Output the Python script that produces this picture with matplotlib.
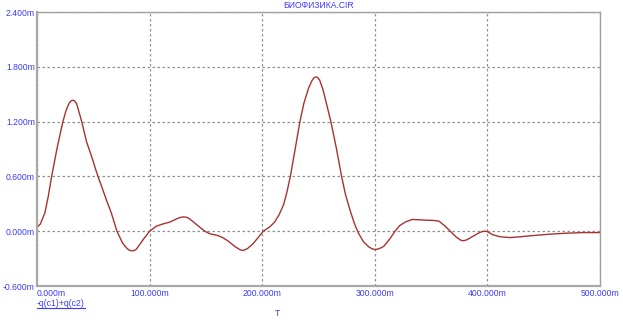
import matplotlib.pyplot as plt
from matplotlib.lines import Line2D

# time (ms-units "m") and -q(c1)+q(c2) values
t = [0, 3, 7, 10, 13, 18, 23, 26, 28.5, 30, 31.7, 33.5, 35, 36.5, 39.7, 44,
     49, 52, 55, 58, 62, 66, 71, 76, 80, 82, 84, 86, 88, 91, 95, 100, 106, 112,
     118, 124, 127, 130, 133, 135, 139, 144, 149, 154, 160, 165, 170, 176, 180,
     182, 184, 187, 192, 197, 201, 207, 211, 215, 219, 222, 225, 229, 233.5,
     237, 241, 244, 246, 247.5, 249, 251, 254, 257, 261, 266, 270.5, 274, 278,
     282, 285, 290, 295, 298, 300, 302, 305, 308, 313, 318, 322, 327, 333, 340,
     346, 352, 357, 362, 367, 372, 376, 378.5, 381, 383, 388, 393, 396, 398,
     400, 405, 411, 420, 430, 440, 455, 470, 485, 500]
q = [0.04, 0.08, 0.2, 0.38, 0.6, 0.92, 1.2, 1.33, 1.40, 1.425, 1.435, 1.425,
     1.40, 1.34, 1.2, 0.98, 0.8, 0.68, 0.57, 0.47, 0.33, 0.2, 0.0, -0.13,
     -0.19, -0.207, -0.215, -0.213, -0.2, -0.15, -0.08, 0.0, 0.055, 0.08, 0.1,
     0.135, 0.15, 0.157, 0.152, 0.14, 0.1, 0.05, 0.0, -0.03, -0.045, -0.07,
     -0.11, -0.17, -0.2, -0.21, -0.207, -0.19, -0.135, -0.06, 0.0, 0.05, 0.1,
     0.18, 0.29, 0.43, 0.6, 0.88, 1.2, 1.4, 1.56, 1.645, 1.68, 1.69, 1.685,
     1.655, 1.55, 1.4, 1.2, 0.9, 0.6, 0.4, 0.23, 0.08, -0.01, -0.117, -0.175,
     -0.195, -0.2, -0.198, -0.185, -0.165, -0.09, 0.0, 0.06, 0.1, 0.128, 0.125,
     0.12, 0.118, 0.11, 0.06, 0.0, -0.06, -0.097, -0.105, -0.098, -0.085,
     -0.05, -0.015, -0.002, 0.0, -0.005, -0.04, -0.06, -0.07, -0.06, -0.048,
     -0.033, -0.022, -0.015, -0.015]

xticks = [0, 100, 200, 300, 400, 500]
yticks = [-0.6, 0.0, 0.6, 1.2, 1.8, 2.4]

blue = '#3a3aff'
plt.rcParams['font.family'] = ['Liberation Sans', 'DejaVu Sans']

fig = plt.figure(figsize=(6.23, 3.24), dpi=100)
ax = fig.add_axes([37 / 623, 1 - 286 / 324, 563 / 623, 274 / 324])
ax.plot(t, q, color='#a83232', lw=1.0)

ax.set_xlim(0, 500)
ax.set_ylim(-0.6, 2.4)
ax.set_xticks(xticks)
ax.set_yticks(yticks)
ax.set_xticklabels(['%.3fm' % v for v in xticks])
ax.set_yticklabels(['%.3fm' % v for v in yticks])
ax.tick_params(length=0, labelsize=6.2, labelcolor=blue)
ax.tick_params(axis='y', pad=1.5)
ax.tick_params(axis='x', pad=2.5)
ax.get_xticklabels()[0].set_horizontalalignment('left')

ax.grid(True, color='#909090', lw=0.9, linestyle=(0, (2, 2)))
for side in ['top', 'right']:
    ax.spines[side].set_color('#a0a0a0')
    ax.spines[side].set_linewidth(1.0)
for side in ['left', 'bottom']:
    ax.spines[side].set_color('#a8a8a8')
    ax.spines[side].set_linewidth(1.6)

fig.text(318.5 / 623, 1 - 6 / 324, 'БИОФИЗИКА.CIR', color=blue, fontsize=6.2,
         ha='center', va='center')
fig.text(37 / 623, 1 - 303 / 324, '-q(c1)+q(c2)', color=blue, fontsize=6.2,
         ha='left', va='center')
fig.add_artist(Line2D([37 / 623, 85 / 623], [1 - 307.5 / 324] * 2,
                      color=blue, lw=0.8))
fig.text(277 / 623, 1 - 314 / 324, 'T', color=blue, fontsize=6.2,
         ha='center', va='center')

fig.savefig('out.png', dpi=100)
